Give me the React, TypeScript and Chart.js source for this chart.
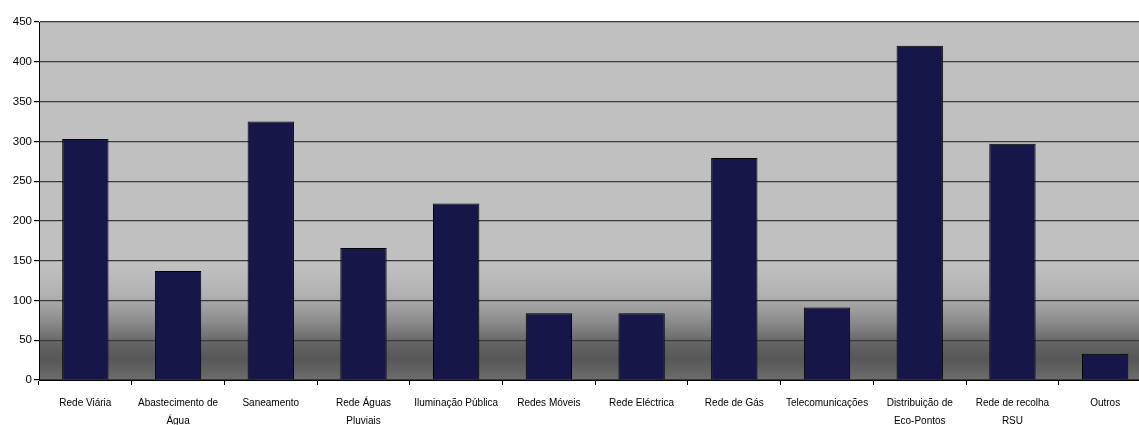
import React, { useEffect, useRef } from "react";
import { Chart, registerables } from "chart.js";

Chart.register(...registerables);

const categories: (string | string[])[] = [
  "Rede Viária",
  ["Abastecimento de", "Água"],
  "Saneamento",
  ["Rede Águas", "Pluviais"],
  "Iluminação Pública",
  "Redes Móveis",
  "Rede Eléctrica",
  "Rede de Gás",
  "Telecomunicações",
  ["Distribuição de", "Eco-Pontos"],
  ["Rede de recolha", "RSU"],
  "Outros",
];

const values: number[] = [303, 137, 325, 166, 222, 84, 84, 279, 91, 420, 297, 33];

const yMin = 0;
const yMax = 450;
const yStep = 50;

const FONT = "'Liberation Sans', Arial, sans-serif";

// Grey plot-area fill that darkens towards the base of the chart
const plotBackground = {
  id: "plotBackground",
  beforeDraw(chart: Chart) {
    const { ctx, chartArea } = chart;
    if (!chartArea) return;
    const { left, top, right, bottom } = chartArea;
    const g = ctx.createLinearGradient(0, top, 0, bottom);
    g.addColorStop(0, "#c0c0c0");
    g.addColorStop(0.68, "#c0c0c0");
    g.addColorStop(0.76, "#b2b2b2");
    g.addColorStop(0.84, "#8a8a8a");
    g.addColorStop(0.9, "#636363");
    g.addColorStop(0.94, "#575757");
    g.addColorStop(1, "#6c6c6c");
    ctx.save();
    ctx.fillStyle = g;
    ctx.fillRect(left, top, right - left, bottom - top);
    ctx.restore();
  },
};

export default function App() {
  const canvasRef = useRef<HTMLCanvasElement | null>(null);

  useEffect(() => {
    if (!canvasRef.current) return;
    const chart = new Chart(canvasRef.current, {
      type: "bar",
      data: {
        labels: categories,
        datasets: [
          {
            data: values,
            backgroundColor: "#161648",
            borderColor: "#000000",
            borderWidth: 1,
            barPercentage: 0.5,
            categoryPercentage: 1,
          },
        ],
      },
      options: {
        responsive: false,
        animation: false,
        layout: { padding: { top: 22, right: 8.5, left: 0, bottom: 0 } },
        plugins: {
          legend: { display: false },
          tooltip: { enabled: false },
        },
        scales: {
          x: {
            grid: {
              offset: true,
              drawOnChartArea: false,
              drawTicks: true,
              tickLength: 5,
              tickColor: "#000000",
              color: "#000000",
            },
            border: { color: "#000000", width: 1 },
            ticks: {
              color: "#000000",
              padding: 9,
              maxRotation: 0,
              autoSkip: false,
              font: { family: FONT, size: 10, lineHeight: 1.8 },
            },
            afterFit(scale: any) {
              scale.height = 45;
            },
          },
          y: {
            min: yMin,
            max: yMax,
            grid: {
              color: "#3a3a3a",
              lineWidth: 1.2,
              drawTicks: true,
              tickLength: 5,
              tickColor: "#000000",
            },
            border: { color: "#000000", width: 1 },
            ticks: {
              stepSize: yStep,
              color: "#000000",
              padding: 2,
              font: { family: FONT, size: 11.5 },
            },
            afterFit(scale: any) {
              scale.width = 39;
            },
          },
        },
      },
      plugins: [plotBackground],
    });
    return () => chart.destroy();
  }, []);

  return (
    <div
      style={{
        position: "fixed",
        left: 0,
        top: 0,
        width: 1139,
        height: 425,
        overflow: "hidden",
        background: "#ffffff",
      }}
    >
      <canvas ref={canvasRef} width={1160} height={425} style={{ display: "block" }} />
    </div>
  );
}
